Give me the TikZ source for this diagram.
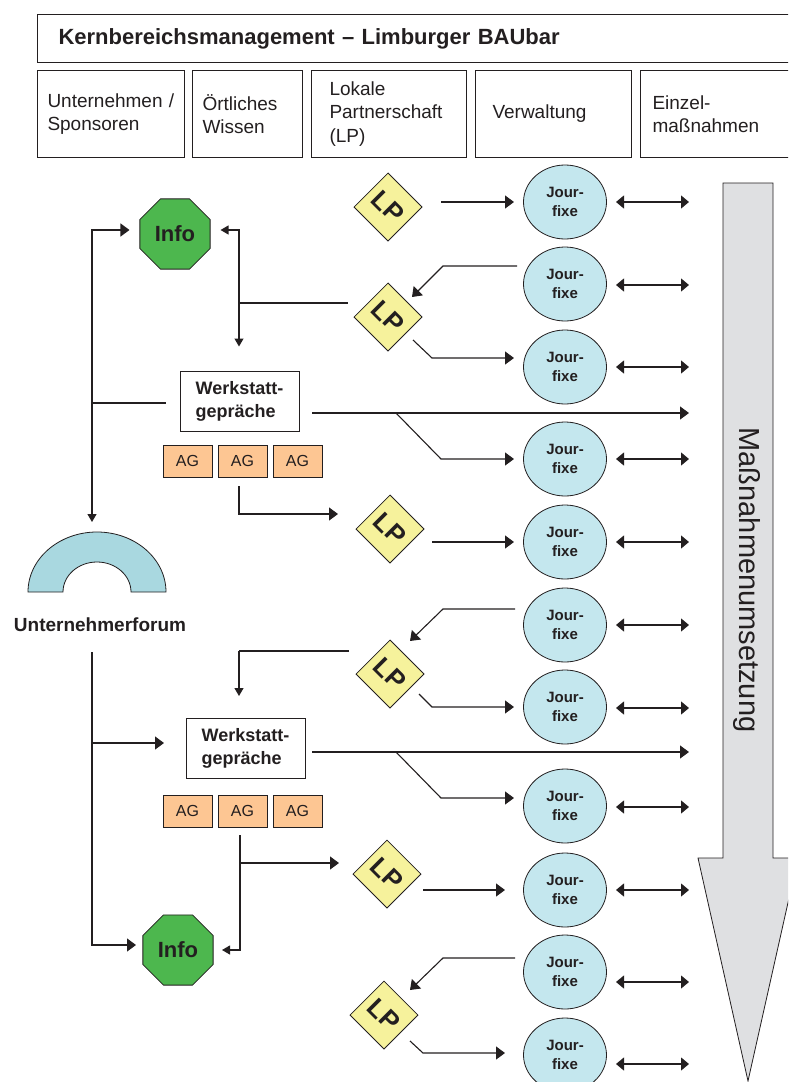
\documentclass[tikz,border=0pt]{standalone}
\usepackage{fontspec}
\setmainfont{Liberation Sans}
\usetikzlibrary{arrows.meta,shapes,calc}

\definecolor{linecol}{HTML}{231F20}
\definecolor{infogreen}{HTML}{4DB74E}
\definecolor{lpyellow}{HTML}{F6F29C}
\definecolor{jfblue}{HTML}{C4E7EE}
\definecolor{agorange}{HTML}{FDC693}
\definecolor{forumblue}{HTML}{A9D8E0}
\definecolor{arrowgray}{HTML}{DFE0E2}

\begin{document}
\begin{tikzpicture}
[x=1pt,y=-1pt,
color=linecol,line width=1.1pt,
>={Triangle[length=9pt,width=13pt]},
%
hbox/.style={shape=rectangle,draw,line width=1pt,anchor=north west,minimum height=87pt,inner ysep=0pt,align=left,font=\fontsize{19}{23.5}\selectfont},
info/.style={shape=regular polygon,regular polygon sides=8,minimum size=76pt,inner sep=0pt,draw,line width=0.8pt,fill=infogreen,font=\bfseries\fontsize{22}{24}\selectfont},
lp/.style={shape=rectangle,rotate=-45,minimum size=48pt,inner sep=0pt,draw,line width=0.8pt,fill=lpyellow,font=\bfseries\fontsize{26}{26}\selectfont},
jf/.style={shape=ellipse,minimum width=83pt,minimum height=74pt,inner sep=0pt,draw,line width=0.8pt,fill=jfblue,align=center,font=\bfseries\fontsize{15}{19}\selectfont},
ws/.style={shape=rectangle,minimum width=119pt,minimum height=60pt,draw,line width=1pt,fill=white,align=left,font=\bfseries\fontsize{18}{23}\selectfont},
ag/.style={shape=rectangle,minimum width=49pt,minimum height=32pt,inner sep=0pt,draw,line width=1pt,fill=agorange,font=\fontsize{16}{18}\selectfont},
%
sarr/.style={-{Triangle[length=8pt,width=9pt]}},
twoway/.style={{Triangle[length=8pt,width=13pt]}-{Triangle[length=8pt,width=13pt]}}]
%
\useasboundingbox (0,0) rectangle (788,1082);
\clip (0,0) rectangle (788,1082);
%
% big arrow
\draw[fill=arrowgray,line width=0.8pt] (723,183) -- (773,183) -- (773,858) -- (798,858)
   -- (748,1081) -- (698,858) -- (723,858) -- cycle;
\node (massn) [rotate=-90,font=\fontsize{29}{32}\selectfont] at (747,580) {Maßnahmenumsetzung};
%%
% head
\node (title) [hbox,minimum height=48pt,text width=740pt,inner xsep=21pt,
   font=\bfseries\fontsize{22}{26}\selectfont] at (37,14) {Kernbereichsmanagement – Limburger BAUbar};
\node (hd1) [hbox,text width=127pt,inner xsep=10pt] at (37,70) {Unternehmen /\\Sponsoren};
\node (hd2) [hbox,text width=90pt,inner xsep=10pt] at (192,70) {Örtliches\\Wissen};
\node (hd3) [hbox,text width=119pt,inner xsep=18pt] at (311,70) {Lokale\\Partnerschaft\\(LP)};
\node (hd4) [hbox,text width=122pt,inner xsep=17pt] at (475,70) {Verwaltung};
\node (hd5) [hbox,text width=160pt,inner xsep=12pt] at (640,70) {Einzel-\\maßnahmen};
%%
% Jour-fixe column
\foreach \i/\y in {1/202,2/284,3/367,4/459,5/542,6/625,7/707,8/806,9/890,10/972,11/1055}
   \node (jf\i) [jf] at (565,\y) {Jour-\\fixe};
\foreach \i/\d in {1/0,2/1,3/0,4/0,5/0,6/0,7/1,8/1,9/0,10/10,11/9}
   \draw[twoway] ([shift={(51,\d)}]jf\i.center) -- ++(73,0);
%%
% LP
\node (lp1) [lp] at (388,207) {LP};
\node (lp2) [lp] at (388,317) {LP};
\node (lp3) [lp] at (390,529) {LP};
\node (lp4) [lp] at (390,674) {LP};
\node (lp5) [lp] at (387,874) {LP};
\node (lp6) [lp] at (384,1015) {LP};
%%
% left part
\node (info1) [info] at (175,234) {Info};
\node (info2) [info] at (178,950) {Info};
\node (ws1) [ws] at (239.5,401) {Werkstatt-\\gepräche};
\node (ws2) [ws] at (245.5,748.5) {Werkstatt-\\gepräche};
\foreach \x [count=\n] in {187.5,242.5,297.5}
{
   \node (ag1\n) [ag] at (\x,461) {AG};
   \node (ag2\n) [ag] at (\x,811) {AG};
}
\draw[fill=forumblue,line width=0.8pt] (28,592) arc[start angle=180,end angle=360,x radius=69,y radius=60]
   -- (131,592) arc[start angle=0,end angle=-180,x radius=34,y radius=30] -- cycle;
\node (forumlbl) [font=\bfseries\fontsize{19}{22}\selectfont] at (100,625) {Unternehmerforum};
%%
% bends
\coordinate (k1) at (92,403);
\coordinate (k2) at (239,303);
\coordinate (k3) at (396,413);
\coordinate (k4) at (92,743);
\coordinate (k5) at (239,651);
\coordinate (k6) at (396,752);
\coordinate (k7) at (240,863);
\coordinate (b2) at (443,266);
\coordinate (b3) at (432,358);
\coordinate (b4) at (441,459);
\coordinate (b5) at (443,609);
\coordinate (b6) at (432,707);
\coordinate (b7) at (441,798);
\coordinate (b8) at (443,958);
\coordinate (b9) at (423,1053);
\coordinate (forumtop) at (92,522);
\coordinate (m1) at (689,413);
\coordinate (m2) at (689,752);
%%
% first round
\draw[->] (k1) |- ([shift={(-10,-4)}]info1.west);
\draw[sarr] (k1) -- (forumtop);
\draw[shorten >=14pt] (k1) -- (k1 -| ws1.west);
\draw[shorten >=5pt] (k2) -- (k2 -| lp2.south west);
\draw[sarr] (k2) |- ([shift={(10,-4)}]info1.east);
\draw[sarr,shorten >=24pt] (k2) -- (k2 |- ws1.north);
\draw[->] ([shift={(53,-5)}]lp1.center) -- ([shift={(-51,0)}]jf1.center);
\draw[->] ([shift={(-48,-18)}]jf2.center) -- (b2) -- ([shift={(24,-20)}]lp2.center);
\draw[->] ([shift={(25,23)}]lp2.center) -- (b3) -- ([shift={(-51,-9)}]jf3.center);
\draw[->] ([shift={(72.5,12)}]ws1.center) -- (m1);
\draw[->] (k3) -- (b4) -- ([shift={(-51,0)}]jf4.center);
\draw[->] ([shift={(-3.5,25)}]ag12.center) |- ([shift={(-52,-15)}]lp3.center);
\draw[->] ([shift={(42,13)}]lp3.center) -- ([shift={(-51,0)}]jf5.center);
%%
% second round
\draw ([shift={(-8,27)}]forumlbl.center) -- (k4);
\draw[->] (k4) |- ([shift={(-42,-5)}]info2.center);
\draw[->] (k4) -- ([shift={(-81.5,-5.5)}]ws2.center);
\draw[->] ([shift={(-50,-16)}]jf6.center) -- (b5) -- ([shift={(20,-33)}]lp4.center);
\draw ([shift={(-41,-23)}]lp4.center) -- (k5);
\draw[sarr] (k5) -- ([shift={(-6.5,-52.5)}]ws2.center);
\draw[->] ([shift={(29,20)}]lp4.center) -- (b6) -- ([shift={(-51,0)}]jf7.center);
\draw[->] ([shift={(66.5,3.5)}]ws2.center) -- (m2);
\draw[->] (k6) -- (b7) -- ([shift={(-51,-8)}]jf8.center);
\draw[sarr] ([shift={(-2.5,24)}]ag22.center) |- ([shift={(44,0)}]info2.center);
\draw[->] (k7) -- ([shift={(-48,-11)}]lp5.center);
\draw[->] ([shift={(36,16)}]lp5.center) -- ([shift={(-60,0)}]jf9.center);
\draw[->] ([shift={(-50,-14)}]jf10.center) -- (b8) -- ([shift={(26,-25)}]lp6.center);
\draw[->] ([shift={(26,26)}]lp6.center) -- (b9) -- ([shift={(-60,-2)}]jf11.center);
\end{tikzpicture}
\end{document}
